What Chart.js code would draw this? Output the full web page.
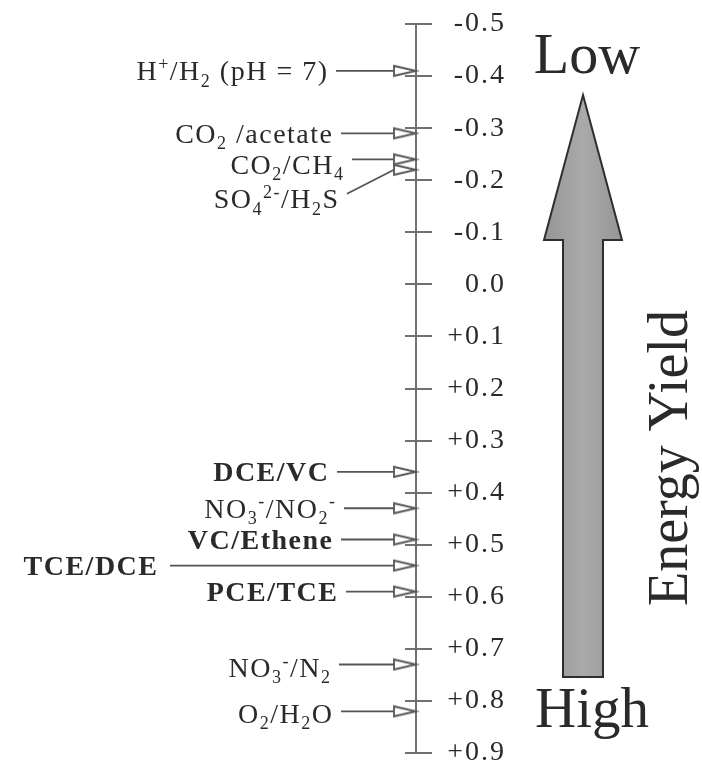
<!DOCTYPE html>
<html>
<head>
<meta charset="utf-8">
<script src="https://cdn.jsdelivr.net/npm/chart.js@4"></script>
<style>
html, body { margin: 0; padding: 0; background: #fff; }
</style>
</head>
<body>
<canvas id="chart" width="702" height="766" style="width:702px;height:766px;display:block"></canvas>
<script>
// redox couples (markup: _x subscript, ^x superscript, {} groups)
const couples = ['H^+/H_2 (pH = 7)', 'CO_2 /acetate', 'CO_2/CH_4', 'SO_4^{2-}/H_2S', 'DCE/VC', 'NO_3^-/NO_2^-',
    'VC/Ethene', 'TCE/DCE', 'PCE/TCE', 'NO_3^-/N_2', 'O_2/H_2O']
// standard potential E0' in volts
const potentials = [-0.41, -0.29, -0.24, -0.22, 0.36, 0.43, 0.49, 0.54, 0.59, 0.73, 0.82]
const chlorinated = ['DCE/VC', 'VC/Ethene', 'TCE/DCE', 'PCE/TCE']
const tickValues = [-0.5, -0.4, -0.3, -0.2, -0.1, 0, 0.1, 0.2, 0.3, 0.4, 0.5, 0.6, 0.7, 0.8, 0.9]
const yieldLow = 'Low'
const yieldHigh = 'High'
const yieldTitle = 'Energy Yield'

// layout of the couple labels (pixels)
const labelRight = [327, 332, 343, 338, 328, 335, 332, 157, 337, 330, 332]
const labelShift = [0, 0, 5, 29, 0, 0, 0, 0, 0, 3, 2]
const slanted = [3]

const serif = '"Liberation Serif", "Times New Roman", serif'
const textColor = '#2a2a2a'
const lineColor = '#555'

function fmtTick(v) {
    if (Math.abs(v) < 1e-9) return '0.0'
    return (v > 0 ? '+' : '-') + Math.abs(v).toFixed(1)
}

function parseRich(s) {
    let segs = []
    let buf = ''
    let i = 0
    while (i < s.length) {
        let c = s[i]
        if (c === '_' || c === '^') {
            if (buf) { segs.push({ t: buf, m: 0 }); buf = '' }
            let t
            if (s[i + 1] === '{') {
                let j = s.indexOf('}', i)
                t = s.slice(i + 2, j)
                i = j + 1
            } else {
                t = s[i + 1]
                i += 2
            }
            segs.push({ t: t, m: c === '_' ? 1 : -1 })
        } else {
            buf += c
            i++
        }
    }
    if (buf) segs.push({ t: buf, m: 0 })
    return segs
}

function richText(ctx, s, xRight, baseY, size, weight) {
    let segs = parseRich(s)
    let small = Math.round(size * 0.66)
    let w = 0
    segs.forEach(sg => {
        ctx.font = weight + ' ' + (sg.m ? small : size) + 'px ' + serif
        sg.w = ctx.measureText(sg.t).width
        w += sg.w
    })
    let x = xRight - w
    segs.forEach(sg => {
        ctx.font = weight + ' ' + (sg.m ? small : size) + 'px ' + serif
        let dy = sg.m === 1 ? size * 0.24 : sg.m === -1 ? -size * 0.36 : 0
        ctx.fillText(sg.t, x, baseY + dy)
        x += sg.w
    })
}

// open arrow head, tip at the centre of the image
function makeHead() {
    let c = document.createElement('canvas')
    c.width = 48
    c.height = 14
    let g = c.getContext('2d')
    g.beginPath()
    g.moveTo(2, 2)
    g.lineTo(24, 7)
    g.lineTo(2, 12)
    g.closePath()
    g.fillStyle = '#fff'
    g.fill()
    g.lineWidth = 1.8
    g.strokeStyle = lineColor
    g.stroke()
    return c
}
const headLen = 22

const energyPlugin = {
    id: 'energy',
    beforeDraw(chart) {
        chart.ctx.letterSpacing = '2px'
    },
    beforeDatasetsDraw(chart) {
        let ctx = chart.ctx
        let ys = chart.scales.y
        let axisX = chart.chartArea.right
        ctx.save()
        ctx.strokeStyle = '#707070'
        ctx.lineWidth = 2
        ys.ticks.forEach((t, i) => {
            let y = Math.round(ys.getPixelForTick(i))
            ctx.beginPath()
            ctx.moveTo(axisX - 11, y)
            ctx.lineTo(axisX, y)
            ctx.stroke()
        })
        // shafts
        let meta = chart.getDatasetMeta(0)
        ctx.strokeStyle = lineColor
        ctx.lineWidth = 1.8
        meta.data.forEach((pt, i) => {
            let x0 = labelRight[i] + (i === 7 ? 13 : 9)
            let y0 = slanted.includes(i) ? pt.y + labelShift[i] - 5 : pt.y
            ctx.beginPath()
            ctx.moveTo(x0, y0)
            ctx.lineTo(pt.x - headLen, pt.y)
            ctx.stroke()
        })
        ctx.restore()
    },
    afterDatasetsDraw(chart) {
        let ctx = chart.ctx
        let meta = chart.getDatasetMeta(0)
        ctx.save()
        ctx.fillStyle = textColor
        ctx.textAlign = 'left'
        ctx.textBaseline = 'alphabetic'
        ctx.letterSpacing = '1.5px'
        meta.data.forEach((pt, i) => {
            let bold = chlorinated.includes(couples[i])
            let size = 28
            richText(ctx, couples[i], labelRight[i] + 1.5, pt.y + labelShift[i] + size * 0.33, size, bold ? 'bold' : 'normal')
        })
        ctx.restore()

        // energy yield arrow
        ctx.save()
        let cx = 583
        ctx.beginPath()
        ctx.moveTo(cx, 95)
        ctx.lineTo(cx + 39, 240)
        ctx.lineTo(cx + 20, 240)
        ctx.lineTo(cx + 20, 677)
        ctx.lineTo(cx - 20, 677)
        ctx.lineTo(cx - 20, 240)
        ctx.lineTo(cx - 39, 240)
        ctx.closePath()
        let grad = ctx.createLinearGradient(cx - 39, 0, cx + 39, 0)
        grad.addColorStop(0, '#959595')
        grad.addColorStop(0.5, '#aaaaaa')
        grad.addColorStop(1, '#959595')
        ctx.fillStyle = grad
        ctx.fill()
        ctx.lineWidth = 2
        ctx.strokeStyle = '#2e2e2e'
        ctx.stroke()

        ctx.fillStyle = textColor
        ctx.letterSpacing = '0px'
        ctx.textAlign = 'center'
        ctx.textBaseline = 'alphabetic'
        ctx.font = '58px ' + serif
        ctx.fillText(yieldLow, 587, 73)
        ctx.font = '57px ' + serif
        ctx.fillText(yieldHigh, 592, 727)
        ctx.translate(687, 458)
        ctx.rotate(-Math.PI / 2)
        ctx.font = '56px ' + serif
        ctx.fillText(yieldTitle, 0, 0)
        ctx.restore()
    }
}

new Chart(document.getElementById('chart'), {
    type: 'scatter',
    data: {
        datasets: [{
            data: potentials.map(v => ({ x: 1, y: v })),
            pointStyle: makeHead(),
            pointRadius: 10,
            clip: false
        }]
    },
    options: {
        responsive: false,
        animation: false,
        events: [],
        layout: { padding: { left: 0, top: 24, right: 196, bottom: 13 } },
        plugins: { legend: { display: false }, tooltip: { enabled: false } },
        scales: {
            x: { type: 'linear', min: 0, max: 1, display: false },
            y: {
                type: 'linear',
                position: 'right',
                reverse: true,
                min: -0.5,
                max: 0.9,
                afterBuildTicks: s => { s.ticks = tickValues.map(v => ({ value: v })) },
                afterFit: s => {
                    s.width = 90
                    s.paddingTop = 0
                    s.paddingBottom = 0
                },
                border: { display: true, color: '#707070', width: 2 },
                grid: { drawOnChartArea: false, drawTicks: true, tickLength: 16, color: '#707070', lineWidth: 2 },
                ticks: {
                    padding: 9,
                    crossAlign: 'far',
                    color: textColor,
                    font: { family: serif, size: 28 },
                    callback: v => fmtTick(v)
                }
            }
        }
    },
    plugins: [energyPlugin]
})
</script>
</body>
</html>
